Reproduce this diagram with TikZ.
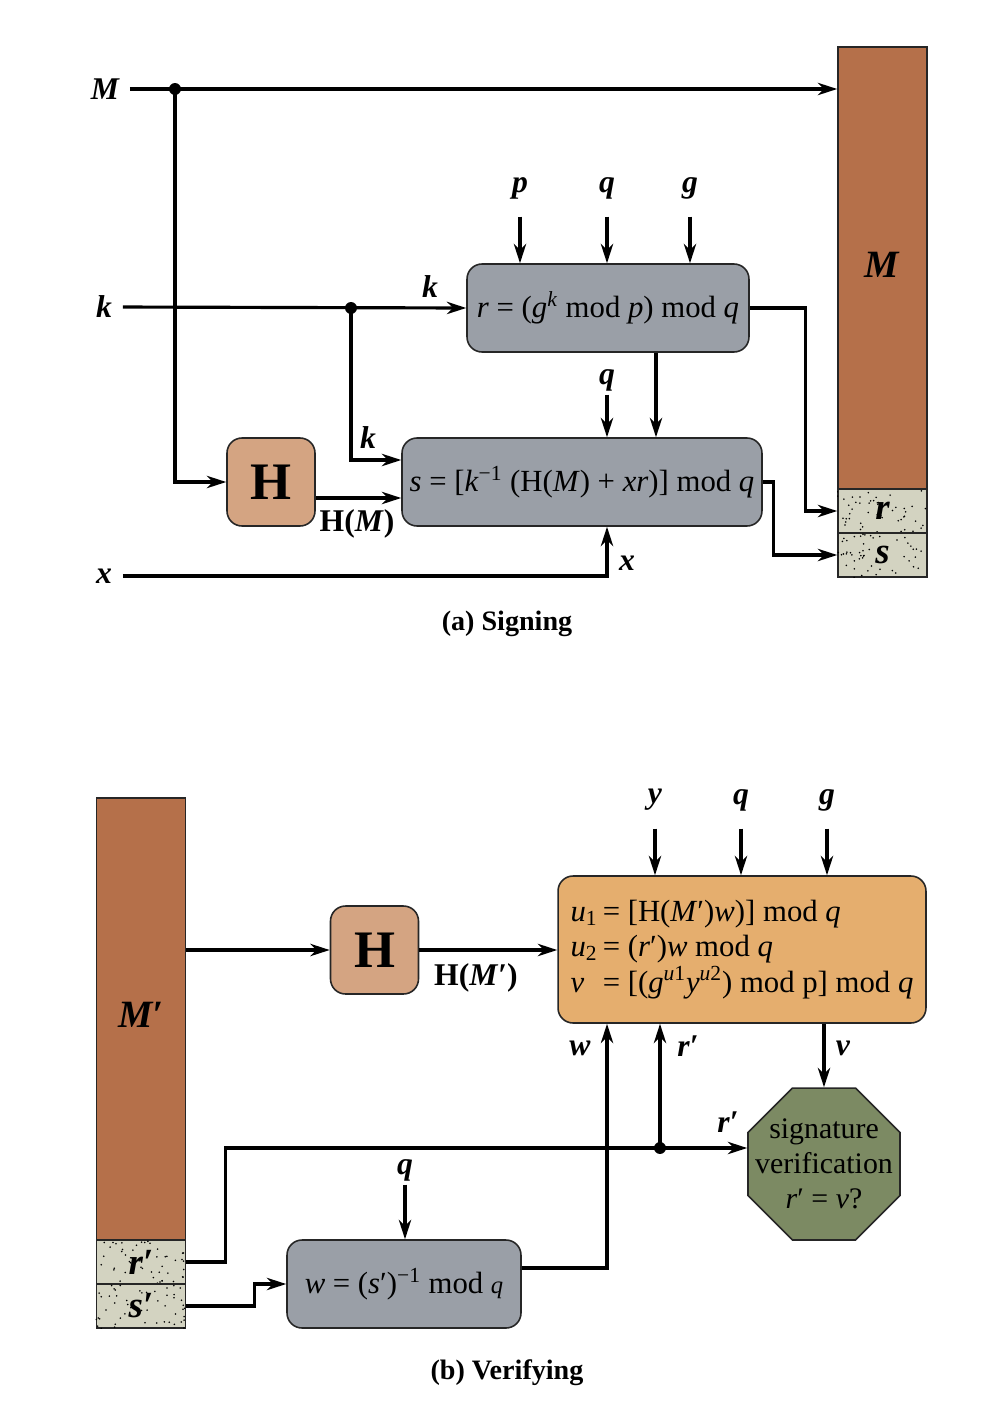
\documentclass[tikz,border=0pt]{standalone}
\usepackage{fontspec}
\setmainfont{Liberation Serif}
\usetikzlibrary{arrows.meta,calc,shapes.geometric}
\definecolor{boxgray}{HTML}{9A9FA7}
\definecolor{hbrown}{HTML}{D4A482}
\definecolor{msgbrown}{HTML}{B5704A}
\definecolor{cellgray}{HTML}{D3D3C1}
\definecolor{calcorange}{HTML}{E5AE6E}
\definecolor{vergreen}{HTML}{7C8A63}
\newcommand\speckle[1]{%
  \begin{scope}
    \clip (#1.south west) rectangle (#1.north east);
    \foreach \i in {1,...,50}{\fill ($(#1.south west)+(rnd*89,-rnd*44)$) circle (0.5pt);}
  \end{scope}}
\begin{document}
\begin{tikzpicture}[x=0.02cm,y=-0.02cm,>={Stealth[length=11pt,width=7pt,inset=3.5pt]},
    wire/.style={line width=1.8pt},
    lab/.style={font=\fontsize{18}{20}\selectfont\bfseries\itshape,inner sep=2pt},
    box/.style={draw=black!85,line width=0.9pt,rounded corners=0.3cm,fill=boxgray,
      font=\fontsize{17.5}{22}\selectfont,inner sep=0pt,minimum height=1.76cm},
    hbox/.style={box,fill=hbrown,minimum width=1.76cm,font=\fontsize{30}{30}\selectfont\bfseries},
    blk/.style={draw=black!85,line width=0.9pt,minimum width=1.78cm,inner sep=0pt},
    cell/.style={blk,fill=cellgray,minimum height=0.88cm},
    celltext/.style={font=\fontsize{21}{22}\selectfont\bfseries\itshape}]

    \useasboundingbox (0,0) rectangle (1000,1410);

    % (a) signing
    \node[blk,fill=msgbrown,minimum height=8.84cm] (colM) at (882.5,268) {};
    \node[font=\fontsize{22}{22}\selectfont\bfseries\itshape] (colMt) at (882,265) {M};
    \node[cell] (cellr) at (882.5,511) {};
    \speckle{cellr}
    \node[celltext] at (cellr) {r};
    \node[cell] (cells) at (882.5,555) {};
    \speckle{cells}
    \node[celltext] at (cells) {s};

    \node[box,minimum width=5.64cm] (r) at (608,308)
      {\textit{r} = (\textit{g}\textsuperscript{\textit{k}} mod \textit{p}) mod \textit{q}};
    \node[box,minimum width=7.2cm] (s) at (582,482)
      {\textit{s} = [\textit{k}\textsuperscript{−1} (H(\textit{M}) + \textit{xr})] mod \textit{q}};
    \node[hbox] (H) at (271,482) {H};

    \node[lab] (M) at (105,89) {M};
    \node[lab] (k) at (104,307) {k};
    \node[lab] (x) at (104,576) {x};
    \node[lab] (p) at (520,188) {p};
    \node[lab] (q) at (607,188) {q};
    \node[lab] (g) at (690,188) {g};
    \node[lab] (q2) at (607,380) {q};
    \coordinate (d1) at (175,89);
    \coordinate (d2) at (351,308);

    \draw[wire,->,shorten <=4pt] (M.east) -- (M -| colM.west);
    \draw[wire,->] (d1) |- (H.west);
    \draw[wire,->,shorten <=4pt] (k.east) -- (r.west);
    \draw[wire,->] (d2) |- ([yshift=0.44cm]s.west);
    \draw[wire,->] ([yshift=-0.32cm]H.east) -- ([yshift=-0.32cm]H.east -| s.west);
    \foreach \n in {p,q,g}
      \draw[wire,->] ([yshift=-8pt]\n.south) -- (\n |- r.north);
    \draw[wire,->] (q2.south) -- (q2 |- s.north);
    \draw[wire,->] ([xshift=0.96cm]r.south) -- ([xshift=0.96cm]r.south |- s.north);
    \draw[wire,->] (r.east) -- ++(56,0) |- (cellr.west);
    \draw[wire,->] (s.east) -- ++(11,0) |- (cells.west);
    \draw[wire,->,shorten <=4pt] (x.east) -| ([xshift=0.5cm]s.south);
    \fill (d1) circle (3.4pt) (d2) circle (3.4pt);

    % the texts
    \node[lab] at (430,287) {k};
    \node[lab] at (368,438) {k};
    \node[lab] at (627,563) {x};
    \node[font=\fontsize{18}{20}\selectfont\bfseries] at (357,524) {H(\textit{M})};
    \node[font=\fontsize{16}{18}\selectfont\bfseries] (capa) at (507,624) {(a) Signing};

    % (b) verifying
    \node[blk,fill=msgbrown,minimum height=8.84cm] (colM2) at (141,1019) {};
    \node[font=\fontsize{22}{22}\selectfont\bfseries\itshape] at (141,1015) {M′};
    \node[cell] (cellr2) at (141,1262) {};
    \speckle{cellr2}
    \node[celltext] at (cellr2) {r′};
    \node[cell] (cells2) at (141,1306) {};
    \speckle{cells2}
    \node[celltext] at (cells2) {s′};

    \node[hbox] (H2) at (374.5,950) {H};
    \node[box,fill=calcorange,minimum width=7.36cm,minimum height=2.94cm,font=\fontsize{17.5}{20}\selectfont]
      (u) at (742,949.5) {\begin{tabular}{@{}l@{\,}l@{}}
        \textit{u}\textsubscript{1} & = [H(\textit{M}′)\textit{w})] mod \textit{q}\\
        \textit{u}\textsubscript{2} & = (\textit{r}′)\textit{w} mod \textit{q}\\
        \textit{v} & = [(\textit{g}\textsuperscript{\textit{u}1}\textit{y}\textsuperscript{\textit{u}2}) mod p] mod \textit{q}
      \end{tabular}};
    \node[draw=black!85,line width=0.9pt,fill=vergreen,regular polygon,regular polygon sides=8,
      minimum size=3.29cm,inner sep=0pt] (ver) at (824,1164) {};
    \node[align=center,font=\fontsize{17}{20}\selectfont] at (ver) {signature\\verification\\\textit{r}′ = \textit{v}?};
    \node[box,minimum width=4.68cm] (wb) at (404,1284)
      {\textit{w} = (\textit{s}′)\textsuperscript{−1} mod {\fontsize{14}{14}\selectfont\textit{q}}};

    \node[lab] (y) at (655,800) {y};
    \node[lab] (q3) at (741,800) {q};
    \node[lab] (g2) at (827,800) {g};
    \node[lab] (q4) at (405,1170) {q};
    \coordinate (rj) at (660,1148);

    \draw[wire,->] (H2.west -| colM2.east) -- (H2.west);
    \draw[wire,->] (H2.east) -- (H2.east -| u.west);
    \foreach \n in {y,q3,g2}
      \draw[wire,->] ([yshift=-8pt]\n.south) -- (\n |- u.north);
    \draw[wire,->] (q4.south) -- (q4 |- wb.north);
    \draw[wire,->] (u.south -| ver.north) -- (ver.north);
    \draw[wire] (cellr2.east) -- ++(39,0) |- (rj);
    \draw[wire,->] (rj) -- (rj -| ver.west);
    \draw[wire,->] (rj) -- (rj |- u.south);
    \draw[wire,->] (cells2.east) -- ++(68,0) |- (wb.west);
    \draw[wire,->] ([yshift=0.32cm]wb.east) -| ([xshift=-2.7cm]u.south);
    \fill (rj) circle (3.4pt);

    % the texts
    \node[font=\fontsize{18}{20}\selectfont\bfseries] at (476,978) {H(\textit{M}′)};
    \node[lab] at (843,1048) {v};
    \node[lab] at (688,1046) {r′};
    \node[lab] at (728,1122) {r′};
    \node[lab] at (580,1048) {w};
    \node[font=\fontsize{16}{18}\selectfont\bfseries] (capb) at (507,1373) {(b) Verifying};
  \end{tikzpicture}
\end{document}
